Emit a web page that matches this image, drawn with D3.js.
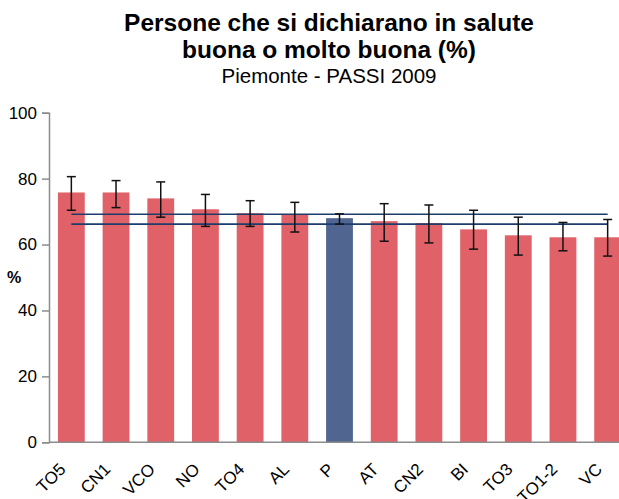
<!DOCTYPE html>
<html>
<head>
<meta charset="utf-8">
<script src="https://cdn.jsdelivr.net/npm/d3@7"></script>
<style>
  body { margin: 0; background: #fff; }
  svg { display: block; font-family: Arial, "Liberation Sans", sans-serif; }
</style>
</head>
<body>
<div id="chart"></div>
<script>
// chart values
let categories = ["TO5", "CN1", "VCO", "NO", "TO4", "AL", "P", "AT", "CN2", "BI", "TO3", "TO1-2", "VC"];
let values = [75.8, 75.8, 74.0, 70.7, 69.5, 69.1, 68.0, 67.1, 66.5, 64.6, 62.8, 62.2, 62.2];
let err_low = [70.4, 71.2, 68.3, 65.5, 65.5, 63.8, 66.2, 61.0, 60.5, 58.6, 56.8, 58.1, 56.5];
let err_high = [80.6, 79.4, 79.0, 75.2, 73.3, 72.8, 69.3, 72.4, 72.0, 70.4, 68.3, 66.7, 67.6];
let region_ci = [66.2, 69.2];   // Piemonte confidence interval, drawn as two lines
let y_ticks = [0, 20, 40, 60, 80, 100];

let width = 619, height = 499;
let color_bar = "#e06167";
let color_region = "#506690";

let svg = d3.select("#chart").append("svg")
  .attr("width", width)
  .attr("height", height);

// title
let title = svg.append("g").attr("text-anchor", "middle");
title.append("text").attr("x", 329).attr("y", 31)
  .attr("font-size", 24.5).attr("font-weight", "bold")
  .text("Persone che si dichiarano in salute");
title.append("text").attr("x", 329).attr("y", 58)
  .attr("font-size", 24.5).attr("font-weight", "bold")
  .text("buona o molto buona (%)");
title.append("text").attr("x", 329).attr("y", 83)
  .attr("font-size", 20.5)
  .text("Piemonte - PASSI 2009");

let x = d3.scaleBand()
  .domain(categories)
  .range([49, 630])
  .paddingInner(0.4)
  .paddingOuter(0.2);

let y = d3.scaleLinear()
  .domain([0, 100])
  .range([442.3, 112.7]);

// bars
svg.append("g").selectAll("rect")
  .data(categories).enter()
  .append("rect")
  .attr("x", d => x(d))
  .attr("width", x.bandwidth())
  .attr("y", (d, i) => y(values[i]))
  .attr("height", (d, i) => y(0) - y(values[i]))
  .attr("fill", d => d == "P" ? color_region : color_bar);

// regional interval lines
let line_x0 = x(categories[0]) + x.bandwidth() / 2;
let line_x1 = x(categories[categories.length - 1]) + x.bandwidth() / 2;
svg.append("g").selectAll("line")
  .data(region_ci).enter()
  .append("line")
  .attr("x1", line_x0).attr("x2", line_x1)
  .attr("y1", d => y(d)).attr("y2", d => y(d))
  .attr("stroke", "#1d3c6b")
  .attr("stroke-width", 1.6);

// error bars
let err = svg.append("g").attr("stroke", "#111").attr("stroke-width", 1.5);
categories.forEach(function(c, i) {
  let cx = x(c) + x.bandwidth() / 2;
  err.append("line").attr("x1", cx).attr("x2", cx)
    .attr("y1", y(err_low[i])).attr("y2", y(err_high[i]));
  [err_low[i], err_high[i]].forEach(function(v) {
    err.append("line").attr("x1", cx - 4.5).attr("x2", cx + 4.5)
      .attr("y1", y(v)).attr("y2", y(v));
  });
});

// y axis
let yAxis = svg.append("g")
  .attr("transform", "translate(49,0)")
  .call(d3.axisLeft(y).tickValues(y_ticks).tickSize(7).tickPadding(5));
yAxis.select(".domain").attr("stroke", "#8c8c8c").attr("stroke-width", 1.5);
yAxis.selectAll(".tick line").attr("stroke", "#8c8c8c").attr("stroke-width", 1.5);
yAxis.selectAll(".tick text").attr("font-size", 17).attr("fill", "#000")
  .attr("font-family", "Arial, 'Liberation Sans', sans-serif");

svg.append("text")
  .attr("x", 14).attr("y", 283)
  .attr("text-anchor", "middle")
  .attr("font-size", 16).attr("font-weight", "bold")
  .text("%");

// x axis line
svg.append("line")
  .attr("x1", 49).attr("x2", width)
  .attr("y1", y(0)).attr("y2", y(0))
  .attr("stroke", "#8c8c8c").attr("stroke-width", 1.5);

// rotated category labels
let labels = svg.append("g").selectAll("g")
  .data(categories).enter()
  .append("g")
  .attr("transform", d => "translate(" + (x(d) + x.bandwidth() / 2 - 13) + ",462)");
labels.append("text")
  .attr("transform", "rotate(-45)")
  .attr("text-anchor", "end")
  .attr("dy", "0.7em")
  .attr("font-size", 17)
  .text(d => d);
</script>
</body>
</html>
